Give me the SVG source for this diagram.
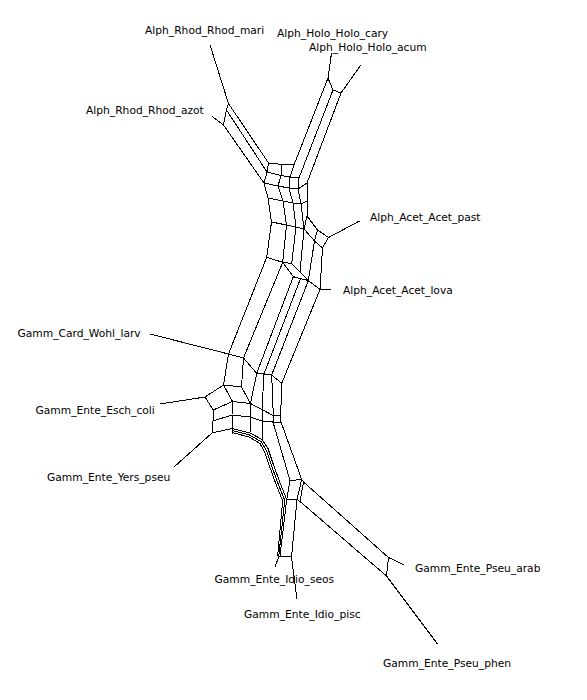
<svg xmlns="http://www.w3.org/2000/svg" width="587" height="700" viewBox="0 0 587 700">
<style>
.e polyline, .e line { stroke:#000; stroke-width:1; fill:none; shape-rendering:crispEdges; }
text { font-family:"DejaVu Sans","Liberation Sans",sans-serif; font-size:10.7px; fill:#000; }
</style>
<rect width="587" height="700" fill="#fff"/>
<g id="edges" class="e">
<!-- leaf edges -->
<line x1="210" y1="45" x2="228.5" y2="103.5"/>
<line x1="212" y1="116.5" x2="223.5" y2="125"/>
<line x1="331.5" y1="53" x2="328" y2="78"/>
<line x1="360.5" y1="65.5" x2="341" y2="93"/>
<line x1="359.5" y1="221" x2="328.5" y2="237.5"/>
<line x1="331" y1="289.5" x2="320" y2="289.5"/>
<line x1="150" y1="334" x2="228.5" y2="354"/>
<line x1="160" y1="404" x2="205" y2="397"/>
<line x1="174" y1="467" x2="212" y2="433"/>
<line x1="275" y1="567" x2="279" y2="556"/>
<line x1="297" y1="599" x2="291.5" y2="557"/>
<line x1="404" y1="565" x2="388.5" y2="557.5"/>
<line x1="437.5" y1="644" x2="386.5" y2="576"/>
<!-- Rhod band -->
<polyline points="228.5,103.5 226.5,110 223.5,125"/>
<line x1="228.5" y1="103.5" x2="268.5" y2="163"/>
<line x1="226.5" y1="110" x2="267" y2="172"/>
<line x1="223.5" y1="125" x2="264" y2="183"/>
<!-- Holo band -->
<polyline points="328,78 333,90 341,93"/>
<line x1="328" y1="78" x2="294" y2="165"/>
<line x1="333" y1="90" x2="299" y2="178"/>
<line x1="341" y1="93" x2="307" y2="183"/>
<!-- top junction grid -->
<polyline points="268.5,163 282,164.5 294,165"/>
<polyline points="267,172 281,175.5 290,177 299,178"/>
<polyline points="264,183 278,186 289,188 298,189 307,183"/>
<polyline points="268,198 283,201 293,203 301,204 307,201"/>
<polyline points="271.5,222 286.5,225 296,227 304,229"/>
<polyline points="268.5,163 267,172 264,183 268,198 271.5,222 266.7,257.3"/>
<polyline points="282,164.5 281,175.5 278,186 283,201 286.5,225 282.7,262.3"/>
<polyline points="294,165 290,177 289,188 293,203 296,227 291.7,263.5"/>
<polyline points="299,178 298,189 301,204 304,229 300,272"/>
<polyline points="307,183 307,201 307,216 317.5,230 328.5,237.5"/>
<polyline points="307,216 304,229 314.5,241 322.5,248 328.5,237.5"/>
<line x1="317.5" y1="230" x2="314.5" y2="241"/>
<line x1="314.5" y1="241" x2="308.3" y2="280.7"/>
<line x1="322.5" y1="248" x2="320" y2="289.5"/>
<!-- acet hourglass -->
<polyline points="266.7,257.3 282.7,262.3 291.7,263.5 300,272 308.3,280.7 320,289.5"/>
<polyline points="282.7,262.3 293.3,276.7 300.5,278.6 308.3,280.7"/>
<!-- main band -->
<line x1="266.7" y1="257.3" x2="228.5" y2="354"/>
<line x1="282.7" y1="262.3" x2="243.5" y2="358"/>
<line x1="293.3" y1="276.7" x2="256.7" y2="373.3"/>
<line x1="300.5" y1="278.6" x2="264" y2="374"/>
<line x1="308.3" y1="280.7" x2="271.7" y2="375"/>
<line x1="320" y1="289.5" x2="281.7" y2="383.3"/>
<polyline points="228.5,354 243.5,358 256.7,373.3 264,374 271.7,375 281.7,383.3"/>
<!-- Wohl box and lower left -->
<polyline points="228.5,354 223.5,385 241.5,387 243.5,358"/>
<line x1="223.5" y1="385" x2="205" y2="397"/>
<polyline points="205,397 213.3,410 213,421 212,433 232,428.5"/>
<polyline points="223.5,385 232.5,401.5 250.5,403.5 241.5,387"/>
<line x1="213.3" y1="410" x2="232.5" y2="401.5"/>
<line x1="213" y1="421" x2="232" y2="415"/>
<polyline points="232.5,401.5 232,415 232,433.6"/>
<polyline points="250.5,403.5 262,409.5 273.3,415.7"/>
<polyline points="232,415 250.5,417 262,421 273,422"/>
<polyline points="256.7,373.3 250.5,403.5 250.5,417 250,433"/>
<polyline points="264,374 262,409.5 262,421 262,439.5"/>
<line x1="271.7" y1="375" x2="273.3" y2="415.7"/>
<line x1="281.7" y1="383.3" x2="280.7" y2="415.7"/>
<polyline points="273.3,415.7 280.7,415.7 281,422 273,422 273.3,415.7"/>
<!-- curved bundle -->
<polyline points="232,428.5 250,433 262,439.5 268,448.5 272.5,462 279.5,481.5 286.7,499.5"/>
<polyline points="232,430.5 249.5,435 261,441.5 266.4,450.5 270.6,463 277.6,482.4 284.7,500.2 278.8,556"/>
<polyline points="232,432.5 249,437 260,443.5 264.8,452.5 268.7,464 275.7,483.3 282.7,501 277.6,556"/>
<!-- down to Idio / Pseu -->
<line x1="273" y1="422" x2="290" y2="480.5"/>
<line x1="281" y1="422" x2="301.7" y2="479.5"/>
<polyline points="290,480.5 301.7,479.5 303.5,482"/>
<polyline points="286.7,499.5 297,499.5 300,501.5"/>
<line x1="290" y1="480.5" x2="286.7" y2="499.5"/>
<line x1="301.7" y1="479.5" x2="297" y2="499.5"/>
<line x1="303.5" y1="482" x2="300" y2="501.5"/>
<line x1="303.5" y1="482" x2="388.5" y2="557.5"/>
<line x1="300" y1="501.5" x2="386.5" y2="576"/>
<line x1="388.5" y1="557.5" x2="386.5" y2="576"/>
<line x1="286.7" y1="499.5" x2="280" y2="556"/>
<line x1="297" y1="499.5" x2="291.5" y2="557"/>
<line x1="277.6" y1="556" x2="291.5" y2="557"/>
</g>
<g id="Alph_Rhod_Rhod_mari"><text x="145" y="34">Alph_Rhod_Rhod_mari</text></g>
<g id="Alph_Holo_Holo_cary"><text x="277" y="37">Alph_Holo_Holo_cary</text></g>
<g id="Alph_Holo_Holo_acum"><text x="309" y="51">Alph_Holo_Holo_acum</text></g>
<g id="Alph_Rhod_Rhod_azot"><text x="86" y="114">Alph_Rhod_Rhod_azot</text></g>
<g id="Alph_Acet_Acet_past"><text x="370" y="221">Alph_Acet_Acet_past</text></g>
<g id="Alph_Acet_Acet_lova"><text x="343" y="294">Alph_Acet_Acet_lova</text></g>
<g id="Gamm_Card_Wohl_larv"><text x="17.5" y="337">Gamm_Card_Wohl_larv</text></g>
<g id="Gamm_Ente_Esch_coli"><text x="35.5" y="413.5">Gamm_Ente_Esch_coli</text></g>
<g id="Gamm_Ente_Yers_pseu"><text x="47" y="481">Gamm_Ente_Yers_pseu</text></g>
<g id="Gamm_Ente_Idio_seos"><text x="214.5" y="583">Gamm_Ente_Idio_seos</text></g>
<g id="Gamm_Ente_Idio_pisc"><text x="244" y="618">Gamm_Ente_Idio_pisc</text></g>
<g id="Gamm_Ente_Pseu_arab"><text x="415" y="572">Gamm_Ente_Pseu_arab</text></g>
<g id="Gamm_Ente_Pseu_phen"><text x="383" y="666.5">Gamm_Ente_Pseu_phen</text></g>
</svg>
